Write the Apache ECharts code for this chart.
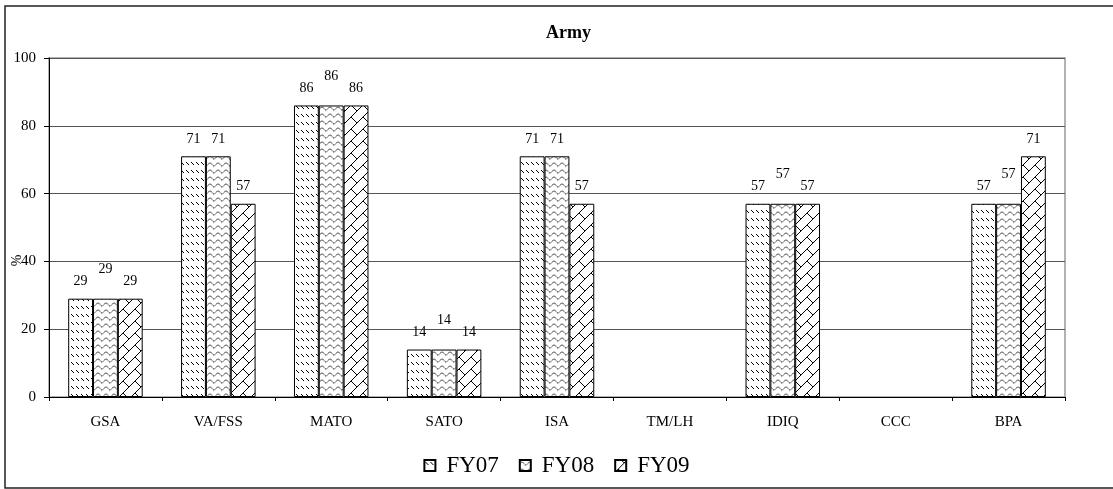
<!DOCTYPE html>
<html>
<head>
<meta charset="utf-8">
<script src="https://cdn.jsdelivr.net/npm/echarts@6/dist/echarts.min.js"></script>
<style>
html,body{margin:0;padding:0;background:#fff;}
#chart{width:1113px;height:489px;}
</style>
</head>
<body>
<div id="chart"></div>
<script>
const categories = ['GSA','VA/FSS','MATO','SATO','ISA','TM/LH','IDIQ','CCC','BPA'];
const fy07 = [29, 71, 86, 14, 71, null, 57, null, 57];
const fy08 = [29, 71, 86, 14, 71, null, 57, null, 57];
const fy09 = [29, 57, 86, 14, 57, null, 57, null, 71];
const seriesNames = ['FY07','FY08','FY09'];
const yTicks = [0, 20, 40, 60, 80, 100];

function makeCanvas(w, h, draw) {
  const c = document.createElement('canvas');
  c.width = w; c.height = h;
  const ctx = c.getContext('2d');
  ctx.fillStyle = '#fff';
  ctx.fillRect(0, 0, w, h);
  ctx.strokeStyle = '#000';
  ctx.fillStyle = '#000';
  ctx.lineWidth = 1;
  draw(ctx);
  return c;
}
// FY07: short back-slash dashes in rows
const pat07 = makeCanvas(5, 8, ctx => {
  ctx.beginPath();
  ctx.moveTo(1, 2);
  ctx.lineTo(4, 5);
  ctx.stroke();
});
// FY08: dotted wavy lines
const pat08 = makeCanvas(8, 7, ctx => {
  ctx.setLineDash([2, 1]);
  ctx.beginPath();
  ctx.moveTo(0, 3.5);
  ctx.quadraticCurveTo(2, 0.5, 4, 3.5);
  ctx.quadraticCurveTo(6, 6.5, 8, 3.5);
  ctx.stroke();
});
// FY09: diagonal brick / zigzag lattice
const pat09 = makeCanvas(12, 12, ctx => {
  ctx.beginPath();
  ctx.moveTo(-1, 13); ctx.lineTo(13, -1);
  ctx.moveTo(3, 9); ctx.lineTo(6, 12);
  ctx.moveTo(6, 0); ctx.lineTo(9, 3);
  ctx.stroke();
});
const patterns = [pat07, pat08, pat09];

const font = 'Liberation Serif';
const dataSets = [fy07, fy08, fy09];

function seriesData(idx) {
  return dataSets[idx].map((v, i) => {
    if (idx === 1 && v != null && fy08[i] === fy07[i] && fy08[i] <= fy09[i]) {
      return { value: v, label: { offset: [0, -12] } };
    }
    return v;
  });
}

const chart = echarts.init(document.getElementById('chart'), null, { renderer: 'canvas' });
chart.setOption({
  backgroundColor: '#fff',
  animation: false,
  title: {
    text: 'Army',
    left: 541,
    top: 19,
    textStyle: { fontFamily: font, fontSize: 18, fontWeight: 'bold', color: '#000' }
  },
  legend: {
    data: seriesNames,
    icon: 'rect',
    bottom: 7,
    left: 'center',
    itemWidth: 11,
    itemHeight: 11,
    itemGap: 20,
    textStyle: { fontFamily: font, fontSize: 23, color: '#000', padding: [0, 0, 0, 6] }
  },
  graphic: [{
    type: 'rect',
    shape: { x: 5, y: 6, width: 1120, height: 482 },
    style: { fill: 'none', stroke: '#222', lineWidth: 1.5 },
    silent: true, z: -1
  }],
  grid: {
    left: 49, right: 48, top: 58, bottom: 92,
    outerBoundsMode: 'none',
    containLabel: false,
    show: true, borderColor: '#999', borderWidth: 1.5
  },
  xAxis: {
    type: 'category',
    data: categories,
    axisLine: { lineStyle: { color: '#000', width: 1 } },
    axisTick: { show: true, length: 4, lineStyle: { color: '#000' } },
    axisLabel: { fontFamily: font, fontSize: 15, color: '#000', margin: 18 },
    splitLine: { show: false }
  },
  yAxis: {
    type: 'value',
    min: yTicks[0], max: yTicks[yTicks.length - 1], interval: 20,
    name: '%',
    nameLocation: 'middle',
    nameRotate: 90,
    nameGap: 25,
    nameMoveOverlap: false,
    nameTextStyle: { fontFamily: font, fontSize: 14, color: '#000', padding: [0, 66, 0, 0] },
    axisLine: { show: true, lineStyle: { color: '#000', width: 1 } },
    axisTick: { show: true, length: 5, lineStyle: { color: '#000' } },
    axisLabel: { fontFamily: font, fontSize: 15, color: '#000', margin: 13 },
    splitLine: { show: true, lineStyle: { color: '#555', width: 1 } }
  },
  series: seriesNames.map((name, idx) => ({
    name,
    type: 'bar',
    data: seriesData(idx),
    barGap: '0%',
    barCategoryGap: '34%',
    itemStyle: {
      color: { image: patterns[idx], repeat: 'repeat' },
      borderColor: '#000',
      borderWidth: 1
    },
    label: {
      show: true,
      position: 'top',
      distance: 10,
      fontFamily: font,
      fontSize: 14,
      color: '#000'
    }
  }))
});
</script>
</body>
</html>
